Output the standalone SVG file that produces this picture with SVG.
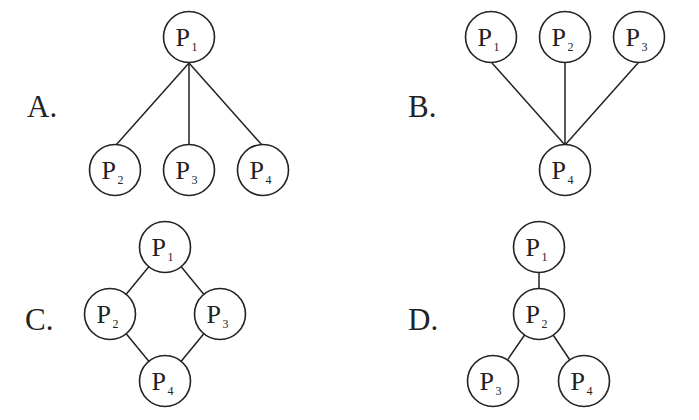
<svg xmlns="http://www.w3.org/2000/svg" width="699" height="420" viewBox="0 0 699 420">
<defs>
<style>
.bg{fill:#fff}
.n circle{fill:#fff;stroke:#222;stroke-width:1.6}
.n text{font-family:"Liberation Serif","Times New Roman",serif;font-size:26px;fill:#222}
.n tspan{font-size:12px}
.lab{font-family:"Liberation Serif","Times New Roman",serif;font-size:31px;fill:#222}
.e line{stroke:#222;stroke-width:1.5}
</style>
</defs>
<rect class="bg" width="699" height="420"/>
<text class="lab" x="27" y="117">A.</text>
<text class="lab" x="408" y="117">B.</text>
<text class="lab" x="25" y="330">C.</text>
<text class="lab" x="408" y="330">D.</text>
<g id="connectors" class="e">
<line x1="189" y1="63" x2="116" y2="145"/>
<line x1="189" y1="63" x2="189" y2="145"/>
<line x1="189" y1="63" x2="262" y2="145"/>
<line x1="492" y1="63" x2="565" y2="145"/>
<line x1="565" y1="63" x2="565" y2="145"/>
<line x1="638" y1="63" x2="565" y2="145"/>
<line x1="165" y1="247" x2="110" y2="314"/>
<line x1="165" y1="247" x2="220" y2="314"/>
<line x1="110" y1="314" x2="165" y2="381"/>
<line x1="220" y1="314" x2="165" y2="381"/>
<line x1="539" y1="247" x2="539" y2="314"/>
<line x1="539" y1="314" x2="493" y2="381"/>
<line x1="539" y1="314" x2="584" y2="381"/>
</g>
<g id="A-P1" class="n"><circle cx="189" cy="37" r="25.5"/><text x="175.5" y="45.5">P<tspan dx="1.5" dy="5">1</tspan></text></g>
<g id="A-P2" class="n"><circle cx="115" cy="170" r="25.5"/><text x="101.5" y="178.5">P<tspan dx="1.5" dy="5">2</tspan></text></g>
<g id="A-P3" class="n"><circle cx="189" cy="170" r="25.5"/><text x="175.5" y="178.5">P<tspan dx="1.5" dy="5">3</tspan></text></g>
<g id="A-P4" class="n"><circle cx="263" cy="170" r="25.5"/><text x="249.5" y="178.5">P<tspan dx="1.5" dy="5">4</tspan></text></g>
<g id="B-P1" class="n"><circle cx="491" cy="37" r="25.5"/><text x="477.5" y="45.5">P<tspan dx="1.5" dy="5">1</tspan></text></g>
<g id="B-P2" class="n"><circle cx="565" cy="37" r="25.5"/><text x="551.5" y="45.5">P<tspan dx="1.5" dy="5">2</tspan></text></g>
<g id="B-P3" class="n"><circle cx="639" cy="37" r="25.5"/><text x="625.5" y="45.5">P<tspan dx="1.5" dy="5">3</tspan></text></g>
<g id="B-P4" class="n"><circle cx="565" cy="170" r="25.5"/><text x="551.5" y="178.5">P<tspan dx="1.5" dy="5">4</tspan></text></g>
<g id="C-P1" class="n"><circle cx="165" cy="247" r="25.5"/><text x="151.5" y="255.5">P<tspan dx="1.5" dy="5">1</tspan></text></g>
<g id="C-P2" class="n"><circle cx="110" cy="314" r="25.5"/><text x="96.5" y="322.5">P<tspan dx="1.5" dy="5">2</tspan></text></g>
<g id="C-P3" class="n"><circle cx="220" cy="314" r="25.5"/><text x="206.5" y="322.5">P<tspan dx="1.5" dy="5">3</tspan></text></g>
<g id="C-P4" class="n"><circle cx="165" cy="381" r="25.5"/><text x="151.5" y="389.5">P<tspan dx="1.5" dy="5">4</tspan></text></g>
<g id="D-P1" class="n"><circle cx="539" cy="247" r="25.5"/><text x="525.5" y="255.5">P<tspan dx="1.5" dy="5">1</tspan></text></g>
<g id="D-P2" class="n"><circle cx="539" cy="314" r="25.5"/><text x="525.5" y="322.5">P<tspan dx="1.5" dy="5">2</tspan></text></g>
<g id="D-P3" class="n"><circle cx="493" cy="381" r="25.5"/><text x="479.5" y="389.5">P<tspan dx="1.5" dy="5">3</tspan></text></g>
<g id="D-P4" class="n"><circle cx="584" cy="381" r="25.5"/><text x="570.5" y="389.5">P<tspan dx="1.5" dy="5">4</tspan></text></g>
</svg>
